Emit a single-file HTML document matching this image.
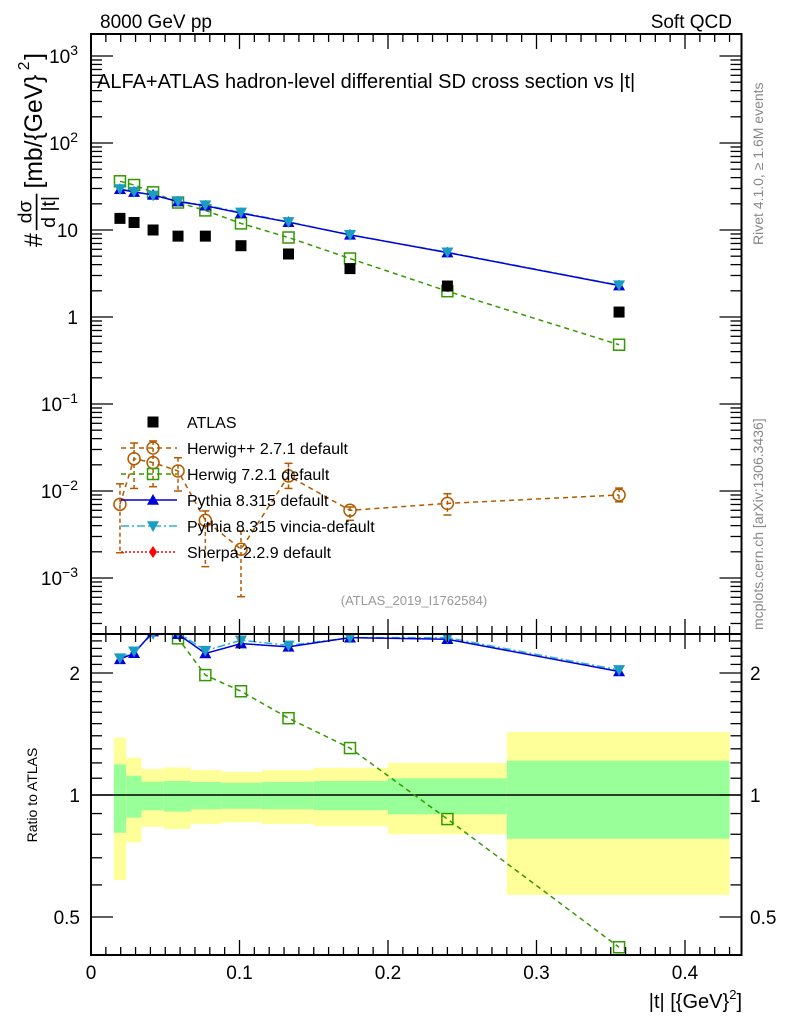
<!DOCTYPE html>
<html><head><meta charset="utf-8">
<style>
html,body{margin:0;padding:0;background:#fff;}
svg{display:block;font-family:"Liberation Sans",sans-serif;}
</style></head>
<body>
<svg id="c" width="786" height="1024" viewBox="0 0 786 1024" xmlns="http://www.w3.org/2000/svg">
<text x="100" y="28" font-size="19">8000 GeV pp</text>
<text x="732" y="28" font-size="19" text-anchor="end">Soft QCD</text>
<text transform="translate(763,245) rotate(-90)" font-size="14" fill="#888">Rivet 4.1.0, ≥ 1.6M events</text>
<text transform="translate(763,630) rotate(-90)" font-size="14" fill="#888">mcplots.cern.ch [arXiv:1306.3436]</text>
<text x="414" y="605" font-size="13" fill="#999" text-anchor="middle">(ATLAS_2019_I1762584)</text>
<g transform="translate(34,247) rotate(-90) scale(1.3)" font-size="19">
  <text x="0" y="6">#</text>
  <text x="27" y="-2" font-size="15" text-anchor="middle">dσ</text>
  <line x1="13" y1="2" x2="41" y2="2" stroke="#000" stroke-width="1.3"/>
  <text x="27" y="16" font-size="15" text-anchor="middle">d |t|</text>
  <text x="45" y="6">[mb/{GeV}</text>
  <text x="136" y="-4" font-size="12">2</text>
  <text x="144" y="6">]</text>
</g>
<text transform="translate(37,795) rotate(-90)" font-size="14" text-anchor="middle">Ratio to ATLAS</text>
<text x="742" y="1008" font-size="20" text-anchor="end">|t| [{GeV}<tspan font-size="13" dy="-9">2</tspan><tspan dy="9">]</tspan></text>
<g id="bands"></g>
<g id="plot"></g>
<g id="axes"></g>
<text x="97" y="88" font-size="20">ALFA+ATLAS hadron-level differential SD cross section vs |t|</text>
<g id="legend"></g>
</svg>
<script>
const xs=[0.0195,0.029,0.0418,0.0586,0.077,0.101,0.133,0.1744,0.240,0.3556];
const atlas=[13.6,12.2,10.0,8.5,8.5,6.6,5.3,3.6,2.27,1.14];
const pythia=[29.4,27.3,25.3,21.2,19.0,15.6,12.3,8.8,5.5,2.3];
const vincia=[29.6,27.6,25.0,21.4,19.3,15.9,12.4,8.8,5.55,2.32];
const herwig7=[36.3,32.9,27.1,20.7,16.8,11.9,8.2,4.7,1.98,0.48];
const herwigpp=[0.00703,0.0235,0.0212,0.0170,0.0046,0.00214,0.0149,0.0060,0.0072,0.0090];
const herwigppHi=[0.0121,0.0356,0.0376,0.0241,0.0059,0.00347,0.0208,0.00655,0.0093,0.0108];
const herwigppLo=[0.00195,0.0107,0.0112,0.0100,0.00135,0.00061,0.0107,0.0046,0.0053,0.0075];
const binEdges=[0.0154,0.0237,0.034,0.049,0.067,0.0876,0.115,0.150,0.200,0.280,0.430];
const yelHi=[1.385,1.236,1.159,1.17,1.153,1.14,1.153,1.167,1.20,1.43];
const grnHi=[1.19,1.116,1.078,1.083,1.077,1.072,1.077,1.083,1.10,1.215];
const grnLo=[0.807,0.879,0.917,0.91,0.922,0.925,0.922,0.917,0.896,0.78];
const yelLo=[0.617,0.764,0.835,0.824,0.848,0.856,0.848,0.838,0.80,0.567];
const xTicks=[0,0.1,0.2,0.3,0.4];
const xTickLabels=["0","0.1","0.2","0.3","0.4"];
const ratioTicks=[0.5,1,2];

const NS="http://www.w3.org/2000/svg";
const L=91,R=741.5,T=34,MB=634,B=955;
const X=v=>91+v*1485;
const Y=v=>317-Math.log10(v)*87;
const YR=v=>795-Math.log2(v)*122;
function mk(tag,attrs,parent){const e=document.createElementNS(NS,tag);for(const k in attrs)e.setAttribute(k,attrs[k]);(parent||document.getElementById('c')).appendChild(e);return e;}
const bands=document.getElementById('bands'),plot=document.getElementById('plot'),axes=document.getElementById('axes'),leg=document.getElementById('legend');

for(let i=0;i<binEdges.length-1;i++){
  const x1=X(binEdges[i]),x2=X(binEdges[i+1]);
  let r=mk('rect',{x:x1,y:YR(yelHi[i]),width:x2-x1,height:YR(yelLo[i])-YR(yelHi[i]),fill:'#ffff99'},bands);
  
  
  r=mk('rect',{x:x1,y:YR(grnHi[i]),width:x2-x1,height:YR(grnLo[i])-YR(grnHi[i]),fill:'#99ff99'},bands);
  
  
}
let one=mk('line',{x1:L,x2:R,y1:YR(1),y2:YR(1),stroke:'#000','stroke-width':1.5},bands);



const defs=mk('defs',{});
const cp1=mk('clipPath',{id:'cm'},defs);mk('rect',{x:L,y:T,width:R-L,height:MB-T},cp1);
const cp2=mk('clipPath',{id:'cr'},defs);mk('rect',{x:L,y:MB,width:R-L,height:B-MB},cp2);
const gm=mk('g',{'clip-path':'url(#cm)'},plot);
const gr=mk('g',{'clip-path':'url(#cr)'},plot);

function line(g,pts,color,dash,w,name){
  const p=mk('polyline',{points:pts.map(p=>p.join(',')).join(' '),fill:'none',stroke:color,'stroke-width':w||1.5,'stroke-dasharray':dash||''},g);
  
  
}
function tri(g,x,y,color,up,name){
  const s=6;const pts=up?[[x,y-s],[x-s,y+s*0.8],[x+s,y+s*0.8]]:[[x,y+s],[x-s,y-s*0.8],[x+s,y-s*0.8]];
  const p=mk('polygon',{points:pts.map(p=>p.join(',')).join(' '),fill:color},g);
  
  
}
function sq(g,x,y,fill,stroke,name){
  const p=mk('rect',{x:x-5.5,y:y-5.5,width:11,height:11,fill:fill,stroke:stroke||'none','stroke-width':1.5},g);
  
  
}
function circ(g,x,y,name){
  const p=mk('circle',{cx:x,cy:y,r:6,fill:'none',stroke:'#b35900','stroke-width':1.5},g);
  
  
}

line(gm,xs.map((x,i)=>[X(x),Y(herwigpp[i])]),'#b35900','5,4',1.5,'herwigpp-line');
xs.forEach((x,i)=>{
  const e=mk('line',{x1:X(x),x2:X(x),y1:Y(herwigppHi[i]),y2:Y(herwigppLo[i]),stroke:'#b35900','stroke-width':1.5,'stroke-dasharray':'4,3'},gm);
  
  
  for(const v of [herwigppHi[i],herwigppLo[i]]){
    const c=mk('line',{x1:X(x)-4,x2:X(x)+4,y1:Y(v),y2:Y(v),stroke:'#b35900','stroke-width':1.5},gm);
    
    
  }
  circ(gm,X(x),Y(herwigpp[i]),'herwigpp-point');
});
line(gm,xs.map((x,i)=>[X(x),Y(herwig7[i])]),'#339900','5,4',1.5,'herwig7-line');
xs.forEach((x,i)=>sq(gm,X(x),Y(herwig7[i]),'none','#339900','herwig7-point'));
line(gm,xs.map((x,i)=>[X(x),Y(vincia[i])]),'#2bb0d8','8,3,2,3',1.5,'vincia-line');
line(gm,xs.map((x,i)=>[X(x),Y(pythia[i])]),'#0000dd','',1.5,'pythia-line');
xs.forEach((x,i)=>tri(gm,X(x),Y(pythia[i]),'#0000dd',true,'pythia-point'));
xs.forEach((x,i)=>tri(gm,X(x),Y(vincia[i]),'#1a9cc4',false,'vincia-point'));
xs.forEach((x,i)=>sq(gm,X(x),Y(atlas[i]),'#000',null,'atlas-point'));

const rh7=xs.map((x,i)=>herwig7[i]/atlas[i]);
const rpy=xs.map((x,i)=>pythia[i]/atlas[i]);
const rvi=xs.map((x,i)=>vincia[i]/atlas[i]);
line(gr,xs.map((x,i)=>[X(x),YR(rh7[i])]),'#339900','5,4',1.5,'herwig7-ratio-line');
xs.forEach((x,i)=>sq(gr,X(x),YR(rh7[i]),'none','#339900','herwig7-ratio-point'));
line(gr,xs.map((x,i)=>[X(x),YR(rvi[i])]),'#2bb0d8','8,3,2,3',1.5,'vincia-ratio-line');
line(gr,xs.map((x,i)=>[X(x),YR(rpy[i])]),'#0000dd','',1.5,'pythia-ratio-line');
xs.forEach((x,i)=>tri(gr,X(x),YR(rpy[i]),'#0000dd',true,'pythia-ratio-point'));
xs.forEach((x,i)=>tri(gr,X(x),YR(rvi[i]),'#1a9cc4',false,'vincia-ratio-point'));

for(const [y1,y2,n] of [[T,MB,'main-frame'],[MB,B,'ratio-frame']]){
  const f=mk('rect',{x:L,y:y1,width:R-L,height:y2-y1,fill:'none',stroke:'#000','stroke-width':2},axes);
  
  
}
function tk(x1,y1,x2,y2){mk('line',{x1,y1,x2,y2,stroke:'#000','stroke-width':1.3},axes);}
for(let k=0;k<=43;k++){
  const v=k/100,x=X(v),maj=k%10==0,len=maj?15:8;
  for(const [ya,dir] of [[T,1],[MB,-1],[MB,1],[B,-1]]) tk(x,ya,x,ya+dir*len);
}
xTicks.forEach((v,i)=>{
  const t=mk('text',{x:X(v),y:979,'font-size':19,'text-anchor':'middle'},axes);
  t.textContent=xTickLabels[i];
  
  
});
for(let d=-4;d<=3;d++){
  for(let m=1;m<=9;m++){
    const v=m*Math.pow(10,d),y=Y(v);
    if(y<T||y>MB)continue;
    const len=m==1?22:11;
    tk(L,y,L+len,y);tk(R,y,R-len,y);
  }
}
for(let d=-3;d<=3;d++){
  const y=Y(Math.pow(10,d));
  const t=mk('text',{x:78,y:y+7,'font-size':19,'text-anchor':'end'},axes);
  
  
  if(d==0)t.textContent='1';else if(d==1)t.textContent='10';
  else{t.textContent='10';const s=mk('tspan',{dy:-8,'font-size':14},t);s.textContent=(d<0?'\u2212':'')+Math.abs(d);}
}
for(const v of [0.4,0.5,0.6,0.7,0.8,0.9,1,1.1,1.2,1.3,1.4,1.5,1.6,1.7,1.8,1.9,2,2.1,2.2,2.3,2.4,2.5]){
  const y=YR(v);if(y<MB||y>B)continue;
  const maj=ratioTicks.includes(v),len=maj?22:11;
  tk(L,y,L+len,y);tk(R,y,R-len,y);
}
ratioTicks.forEach(v=>{
  for(const [x,a] of [[80,'end'],[750,'start']]){
    const t=mk('text',{x:x,y:YR(v)+7,'font-size':19,'text-anchor':a},axes);
    t.textContent=String(v);
    
    
  }
});

const legNames=['ATLAS','Herwig++ 2.7.1 default','Herwig 7.2.1 default','Pythia 8.315 default','Pythia 8.315 vincia-default','Sherpa 2.2.9 default'];
legNames.forEach((n,i)=>{
  const y=422+i*26,cx=153;
  const g=mk('g',{},leg);
  
  
  if(i==0){sq(g,cx,y,'#000',null,'legend-marker');}
  if(i==1){mk('line',{x1:121,x2:177,y1:y,y2:y,stroke:'#b35900','stroke-width':1.5,'stroke-dasharray':'5,4'},g);circ(g,cx,y,'legend-marker');}
  if(i==2){mk('line',{x1:121,x2:177,y1:y,y2:y,stroke:'#339900','stroke-width':1.5,'stroke-dasharray':'5,4'},g);sq(g,cx,y,'none','#339900','legend-marker');}
  if(i==3){mk('line',{x1:121,x2:177,y1:y,y2:y,stroke:'#0000dd','stroke-width':1.5},g);tri(g,cx,y,'#0000dd',true,'legend-marker');}
  if(i==4){mk('line',{x1:121,x2:177,y1:y,y2:y,stroke:'#2bb0d8','stroke-width':1.5,'stroke-dasharray':'8,3,2,3'},g);tri(g,cx,y,'#1a9cc4',false,'legend-marker');}
  if(i==5){mk('line',{x1:121,x2:177,y1:y,y2:y,stroke:'#ff0000','stroke-width':1.5,'stroke-dasharray':'2,2'},g);mk('polygon',{points:`${cx},${y-6} ${cx+4},${y} ${cx},${y+6} ${cx-4},${y}`,fill:'#ff0000'},g);}
  const t=mk('text',{x:187,y:y+6,'font-size':16},g);
  t.textContent=n;
});
</script>
</body></html>
